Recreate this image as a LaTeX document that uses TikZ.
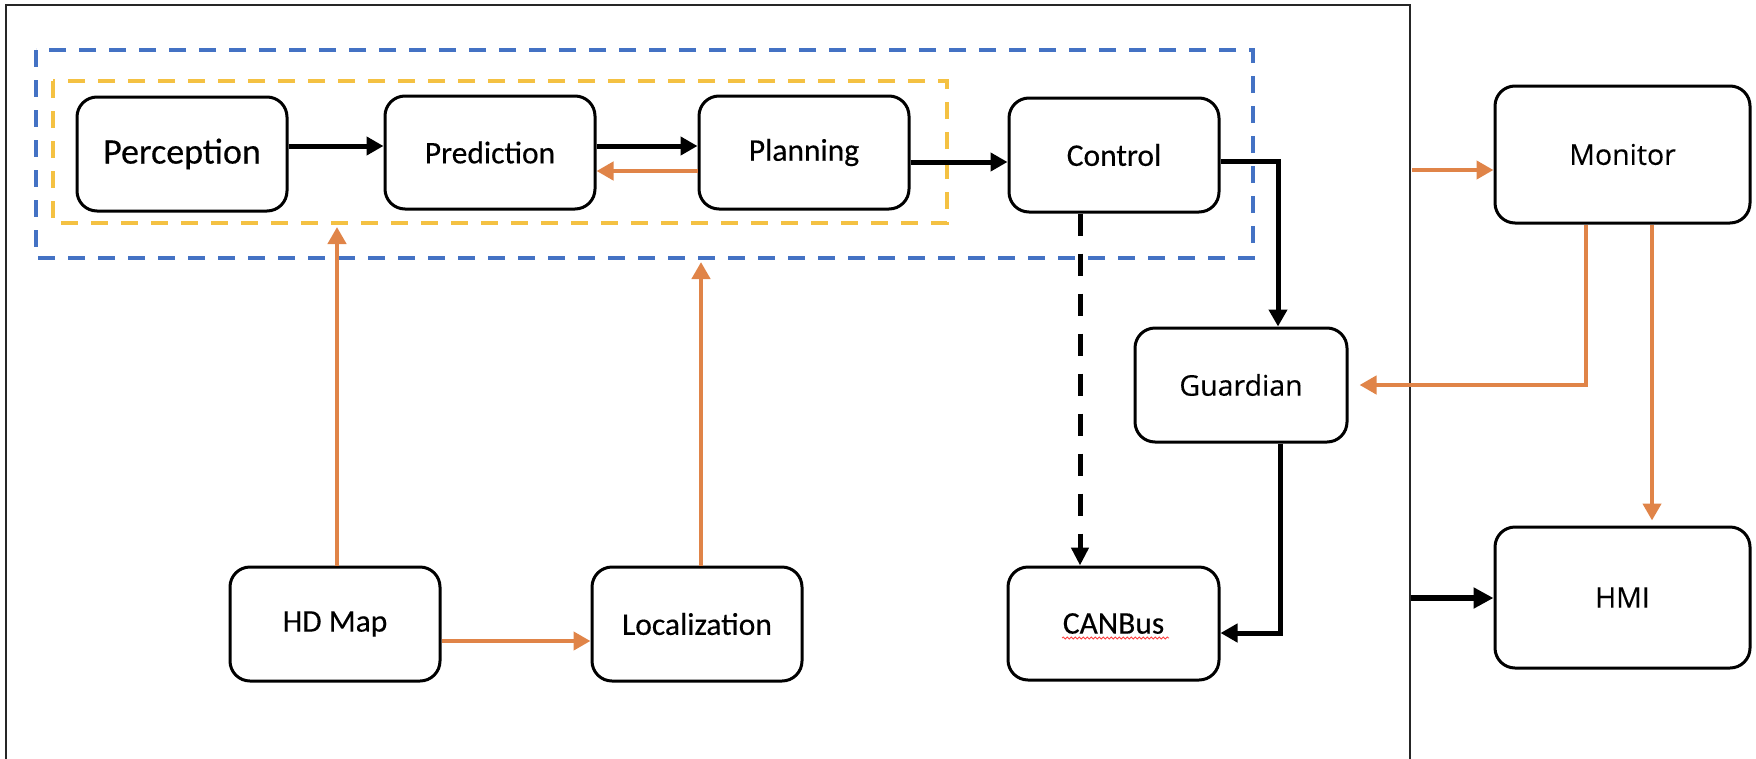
\documentclass[tikz,border=0pt]{standalone}
\usepackage{fontspec}
\setmainfont{Carlito}[FakeBold=0.35]
\newfontfamily\osans{Open Sans}[FakeBold=0.25]
\usetikzlibrary{arrows.meta,decorations.pathmorphing}
\definecolor{orng}{RGB}{224,132,72}
\definecolor{blu}{RGB}{68,114,196}
\definecolor{ylw}{RGB}{244,193,66}
\tikzset{
 box/.style={draw=black,line width=3pt,rounded corners=20pt,minimum width=210pt,minimum height=114pt,inner sep=0pt,font=\fontsize{31.5}{36}\selectfont,fill=white},
 bigbox/.style={box,minimum width=255pt,font=\osans\fontsize{28.5}{34}\selectfont},
 blk/.style={draw=black,line width=5pt,-{Triangle[length=17pt,width=18pt]}},
 org/.style={draw=orng,line width=4.5pt,-{Triangle[length=17pt,width=18pt]}},
 grp/.style={line width=3.5pt,dash pattern=on 17pt off 13pt},
 dsh/.style={draw=black,line width=5pt,dash pattern=on 22pt off 18pt,-{Triangle[length=18pt,width=17pt]}},
}
\begin{document}
\begin{tikzpicture}[x=1pt,y=-1pt]
\useasboundingbox (0,0) rectangle (1756,758);
% outer frame
\draw[line width=1.5pt,draw=black!85] (6,770) -- (6,5) -- (1410,5) -- (1410,770);
% groups
\draw[grp,draw=blu] (36,50) rectangle (1253,258);
\draw[grp,draw=ylw] (53,81) rectangle (947,223);
% nodes
\node[box,minimum height=114pt,font=\fontsize{36}{40}\selectfont] (perc) at (182,154) {Perception};
\node[box,minimum height=113pt] (pred) at (490,152.5) {Prediction};
\node[box,minimum height=113pt] (plan) at (804,152.5) {Planning};
\node[box] (ctrl) at (1114,155) {Control};
\node[box,minimum width=212pt,font=\osans\fontsize{28.5}{34}\selectfont] (guard) at (1241,385) {Guardian};
\node[box,minimum width=211pt,minimum height=113pt] (can) at (1113.5,623.5) {CANBus};
\node[box] (hd) at (335,624) {HD Map};
\node[box] (loc) at (697,624) {Localization};
\node[bigbox,minimum height=137pt] (mon) at (1622.5,154.5) {Monitor};
\node[bigbox,minimum height=141pt] (hmi) at (1622.5,597.5) {HMI};
% spell-check squiggle
\draw[draw=red!75,line width=0.8pt,decorate,decoration={snake,amplitude=1pt,segment length=4pt}] (1062,638) -- (1169,638);
% connectors
\draw[blk] (perc.east |- 0,146) -- (pred.west |- 0,146);
\draw[blk] (pred.east |- 0,146) -- (plan.west |- 0,146);
\draw[org] (plan.west |- 0,171) -- (pred.east |- 0,171);
\draw[blk] (plan.east |- 0,162) -- (ctrl.west |- 0,162);
\draw[blk] (ctrl.east |- 0,161) -| (1278,0 |- guard.north);
\draw[dsh] (1080,0 |- ctrl.south) -- (1080,0 |- can.north);
\draw[blk] (1280,0 |- guard.south) |- (can.east |- 0,633);
\draw[org] (hd.east |- 0,641) -- (loc.west |- 0,641);
\coordinate (hdtip) at (337,227);
\coordinate (loctip) at (701,262);
\draw[org] (hdtip |- hd.north) -- (hdtip);
\draw[org] (loctip |- loc.north) -- (loctip);
\coordinate (fm) at (1412,170);
\draw[org] (fm) -- (mon.west |- fm);
\draw[org,shorten >=11pt] (1586,0 |- mon.south) |- (guard.east);
\draw[org,shorten >=5pt] (1652,0 |- mon.south) -- (1652,0 |- hmi.north);
\coordinate (fh) at (1411,598);
\draw[draw=black,line width=6pt,-{Triangle[length=20pt,width=20pt]}] (fh) -- (hmi.west |- fh);
\end{tikzpicture}
\end{document}
